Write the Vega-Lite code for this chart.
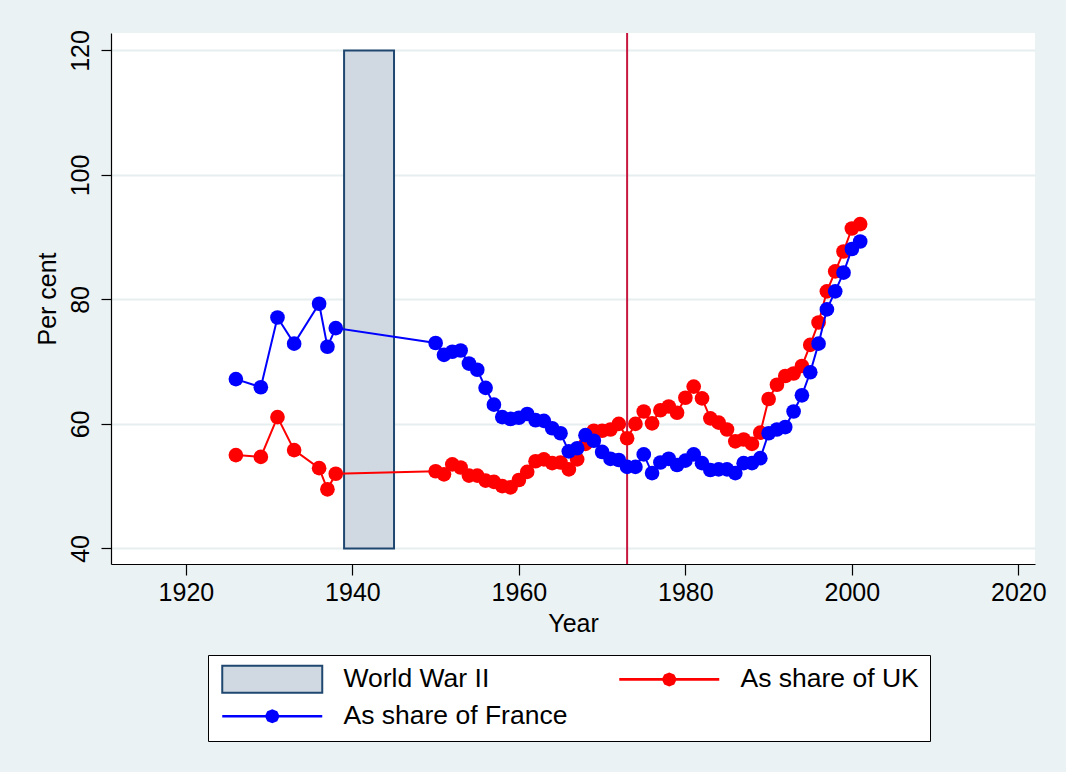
{
  "$schema": "https://vega.github.io/schema/vega-lite/v6.json",
  "width": 924,
  "height": 531,
  "autosize": {"type": "none"},
  "padding": {"left": 111, "top": 33, "right": 31, "bottom": 208},
  "background": "#eaf2f3",
  "config": {
    "font": "Liberation Sans",
    "view": {"fill": "white", "stroke": null},
    "axis": {
      "domainColor": "black",
      "domainWidth": 1.2,
      "tickColor": "black",
      "tickWidth": 1.2,
      "labelColor": "black",
      "labelFont": "Liberation Sans",
      "labelFontSize": 25,
      "labelOverlap": false,
      "labelFlush": false,
      "titleColor": "black",
      "titleFont": "Liberation Sans",
      "titleFontSize": 25,
      "titleFontWeight": "normal"
    }
  },
  "datasets": {
    "series": [
      {"year": 1926, "value": 55.0, "series": "As share of UK"},
      {"year": 1929, "value": 54.7, "series": "As share of UK"},
      {"year": 1931, "value": 61.1, "series": "As share of UK"},
      {"year": 1933, "value": 55.8, "series": "As share of UK"},
      {"year": 1936, "value": 52.9, "series": "As share of UK"},
      {"year": 1937, "value": 49.5, "series": "As share of UK"},
      {"year": 1938, "value": 52.0, "series": "As share of UK"},
      {"year": 1950, "value": 52.4, "series": "As share of UK"},
      {"year": 1951, "value": 51.9, "series": "As share of UK"},
      {"year": 1952, "value": 53.5, "series": "As share of UK"},
      {"year": 1953, "value": 53.0, "series": "As share of UK"},
      {"year": 1954, "value": 51.7, "series": "As share of UK"},
      {"year": 1955, "value": 51.7, "series": "As share of UK"},
      {"year": 1956, "value": 50.9, "series": "As share of UK"},
      {"year": 1957, "value": 50.7, "series": "As share of UK"},
      {"year": 1958, "value": 50.0, "series": "As share of UK"},
      {"year": 1959, "value": 49.8, "series": "As share of UK"},
      {"year": 1960, "value": 51.0, "series": "As share of UK"},
      {"year": 1961, "value": 52.3, "series": "As share of UK"},
      {"year": 1962, "value": 54.0, "series": "As share of UK"},
      {"year": 1963, "value": 54.3, "series": "As share of UK"},
      {"year": 1964, "value": 53.7, "series": "As share of UK"},
      {"year": 1965, "value": 53.8, "series": "As share of UK"},
      {"year": 1966, "value": 52.7, "series": "As share of UK"},
      {"year": 1967, "value": 54.3, "series": "As share of UK"},
      {"year": 1968, "value": 56.8, "series": "As share of UK"},
      {"year": 1969, "value": 58.9, "series": "As share of UK"},
      {"year": 1970, "value": 58.9, "series": "As share of UK"},
      {"year": 1971, "value": 59.1, "series": "As share of UK"},
      {"year": 1972, "value": 60.0, "series": "As share of UK"},
      {"year": 1973, "value": 57.7, "series": "As share of UK"},
      {"year": 1974, "value": 60.0, "series": "As share of UK"},
      {"year": 1975, "value": 62.0, "series": "As share of UK"},
      {"year": 1976, "value": 60.1, "series": "As share of UK"},
      {"year": 1977, "value": 62.2, "series": "As share of UK"},
      {"year": 1978, "value": 62.8, "series": "As share of UK"},
      {"year": 1979, "value": 61.8, "series": "As share of UK"},
      {"year": 1980, "value": 64.2, "series": "As share of UK"},
      {"year": 1981, "value": 66.0, "series": "As share of UK"},
      {"year": 1982, "value": 64.1, "series": "As share of UK"},
      {"year": 1983, "value": 60.9, "series": "As share of UK"},
      {"year": 1984, "value": 60.2, "series": "As share of UK"},
      {"year": 1985, "value": 59.1, "series": "As share of UK"},
      {"year": 1986, "value": 57.2, "series": "As share of UK"},
      {"year": 1987, "value": 57.5, "series": "As share of UK"},
      {"year": 1988, "value": 56.8, "series": "As share of UK"},
      {"year": 1989, "value": 58.6, "series": "As share of UK"},
      {"year": 1990, "value": 64.0, "series": "As share of UK"},
      {"year": 1991, "value": 66.3, "series": "As share of UK"},
      {"year": 1992, "value": 67.7, "series": "As share of UK"},
      {"year": 1993, "value": 68.1, "series": "As share of UK"},
      {"year": 1994, "value": 69.3, "series": "As share of UK"},
      {"year": 1995, "value": 72.7, "series": "As share of UK"},
      {"year": 1996, "value": 76.3, "series": "As share of UK"},
      {"year": 1997, "value": 81.3, "series": "As share of UK"},
      {"year": 1998, "value": 84.5, "series": "As share of UK"},
      {"year": 1999, "value": 87.7, "series": "As share of UK"},
      {"year": 2000, "value": 91.4, "series": "As share of UK"},
      {"year": 2001, "value": 92.1, "series": "As share of UK"},
      {"year": 1926, "value": 67.2, "series": "As share of France"},
      {"year": 1929, "value": 65.9, "series": "As share of France"},
      {"year": 1931, "value": 77.1, "series": "As share of France"},
      {"year": 1933, "value": 72.9, "series": "As share of France"},
      {"year": 1936, "value": 79.3, "series": "As share of France"},
      {"year": 1937, "value": 72.4, "series": "As share of France"},
      {"year": 1938, "value": 75.4, "series": "As share of France"},
      {"year": 1950, "value": 73.0, "series": "As share of France"},
      {"year": 1951, "value": 71.1, "series": "As share of France"},
      {"year": 1952, "value": 71.6, "series": "As share of France"},
      {"year": 1953, "value": 71.8, "series": "As share of France"},
      {"year": 1954, "value": 69.7, "series": "As share of France"},
      {"year": 1955, "value": 68.7, "series": "As share of France"},
      {"year": 1956, "value": 65.8, "series": "As share of France"},
      {"year": 1957, "value": 63.1, "series": "As share of France"},
      {"year": 1958, "value": 61.1, "series": "As share of France"},
      {"year": 1959, "value": 60.8, "series": "As share of France"},
      {"year": 1960, "value": 61.0, "series": "As share of France"},
      {"year": 1961, "value": 61.6, "series": "As share of France"},
      {"year": 1962, "value": 60.6, "series": "As share of France"},
      {"year": 1963, "value": 60.5, "series": "As share of France"},
      {"year": 1964, "value": 59.3, "series": "As share of France"},
      {"year": 1965, "value": 58.5, "series": "As share of France"},
      {"year": 1966, "value": 55.6, "series": "As share of France"},
      {"year": 1967, "value": 56.1, "series": "As share of France"},
      {"year": 1968, "value": 58.2, "series": "As share of France"},
      {"year": 1969, "value": 57.3, "series": "As share of France"},
      {"year": 1970, "value": 55.5, "series": "As share of France"},
      {"year": 1971, "value": 54.4, "series": "As share of France"},
      {"year": 1972, "value": 54.2, "series": "As share of France"},
      {"year": 1973, "value": 53.1, "series": "As share of France"},
      {"year": 1974, "value": 53.1, "series": "As share of France"},
      {"year": 1975, "value": 55.1, "series": "As share of France"},
      {"year": 1976, "value": 52.1, "series": "As share of France"},
      {"year": 1977, "value": 53.8, "series": "As share of France"},
      {"year": 1978, "value": 54.4, "series": "As share of France"},
      {"year": 1979, "value": 53.4, "series": "As share of France"},
      {"year": 1980, "value": 54.1, "series": "As share of France"},
      {"year": 1981, "value": 55.1, "series": "As share of France"},
      {"year": 1982, "value": 53.7, "series": "As share of France"},
      {"year": 1983, "value": 52.6, "series": "As share of France"},
      {"year": 1984, "value": 52.7, "series": "As share of France"},
      {"year": 1985, "value": 52.7, "series": "As share of France"},
      {"year": 1986, "value": 52.1, "series": "As share of France"},
      {"year": 1987, "value": 53.7, "series": "As share of France"},
      {"year": 1988, "value": 53.7, "series": "As share of France"},
      {"year": 1989, "value": 54.5, "series": "As share of France"},
      {"year": 1990, "value": 58.5, "series": "As share of France"},
      {"year": 1991, "value": 59.1, "series": "As share of France"},
      {"year": 1992, "value": 59.5, "series": "As share of France"},
      {"year": 1993, "value": 62.0, "series": "As share of France"},
      {"year": 1994, "value": 64.6, "series": "As share of France"},
      {"year": 1995, "value": 68.3, "series": "As share of France"},
      {"year": 1996, "value": 72.9, "series": "As share of France"},
      {"year": 1997, "value": 78.4, "series": "As share of France"},
      {"year": 1998, "value": 81.3, "series": "As share of France"},
      {"year": 1999, "value": 84.3, "series": "As share of France"},
      {"year": 2000, "value": 88.1, "series": "As share of France"},
      {"year": 2001, "value": 89.3, "series": "As share of France"}
    ],
    "war": [
      {"start": 1939, "end": 1945, "lo": 40, "hi": 120, "series": "World War II"}
    ],
    "event": [
      {"year": 1973}
    ]
  },
  "layer": [
    {
      "data": {"name": "war"},
      "mark": {"type": "rect", "stroke": "#1f4770", "strokeWidth": 2, "opacity": 1},
      "encoding": {
        "x": {"field": "start", "type": "quantitative", "title": "Year",
              "scale": {"domain": [1911, 2022], "nice": false, "zero": false},
              "axis": {"values": [1920, 1940, 1960, 1980, 2000, 2020], "format": "d", "grid": false, "tickSize": 11, "labelPadding": 5, "titlePadding": 6}},
        "x2": {"field": "end"},
        "y": {"field": "lo", "type": "quantitative", "title": "Per cent",
              "scale": {"domain": [37.5, 122.8], "nice": false, "zero": false},
              "axis": {"values": [40, 60, 80, 100, 120], "grid": true, "gridColor": "#e6eef0", "gridWidth": 2, "tickSize": 10, "labelAngle": -90, "labelAlign": "center", "labelBaseline": "bottom", "labelPadding": 8, "titlePadding": 8}},
        "y2": {"field": "hi"},
        "fill": {
          "field": "series", "type": "nominal",
          "scale": {"domain": ["World War II"], "range": ["#d0d9e2"]},
          "legend": {
            "title": null,
            "orient": "none",
            "legendX": 108,
            "legendY": 633,
            "padding": 0,
            "zindex": 5,
            "labelFont": "Liberation Sans",
            "labelFontSize": 26.5,
            "labelColor": "black",
            "labelOffset": 98,
            "labelLimit": 500,
            "symbolSize": 400,
            "symbolStrokeWidth": 2,
            "symbolStrokeColor": "#1f4770",
            "symbolType": "M-1,-1.35H9V1.35H-1Z"
          }
        }
      }
    },
    {
      "data": {"name": "event"},
      "mark": {"type": "rule", "color": "#c8173e", "strokeWidth": 2},
      "encoding": {
        "x": {"field": "year", "type": "quantitative", "title": "Year"}
      }
    },
    {
      "data": {"name": "series"},
      "transform": [{"filter": "datum.series === 'As share of UK'"}],
      "mark": {"type": "point", "filled": true, "shape": "circle", "size": 215, "opacity": 1},
      "encoding": {
        "x": {"field": "year", "type": "quantitative", "title": "Year"},
        "y": {"field": "value", "type": "quantitative", "title": "Per cent"},
        "color": {
          "field": "series", "type": "nominal",
          "scale": {"domain": ["_blank", "As share of UK", "As share of France"], "range": ["transparent", "#ff0000", "#0000ff"]},
          "legend": {
            "title": null,
            "orient": "none",
            "legendX": 97,
            "legendY": 622,
            "direction": "horizontal",
            "columns": 2,
            "columnPadding": 48,
            "rowPadding": 10,
            "padding": 11,
            "zindex": 1,
            "strokeColor": "black",
            "fillColor": "white",
            "labelFont": "Liberation Sans",
            "labelFontSize": 26.5,
            "labelColor": "black",
            "labelOffset": 98,
            "labelLimit": 500,
            "labelExpr": "datum.value === '_blank' ? '' : datum.label",
            "symbolSize": 400,
            "symbolStrokeWidth": 0,
            "symbolOpacity": 1,
            "symbolType": "M-1,-0.13H3.32L3.5,-0.5L4,-0.7L4.5,-0.5L4.68,-0.13H9V0.13H4.68L4.5,0.5L4,0.7L3.5,0.5L3.32,0.13H-1Z"
          }
        }
      }
    },
    {
      "data": {"name": "series"},
      "transform": [{"filter": "datum.series === 'As share of UK'"}],
      "mark": {"type": "line", "strokeWidth": 2},
      "encoding": {
        "x": {"field": "year", "type": "quantitative", "title": "Year"},
        "y": {"field": "value", "type": "quantitative", "title": "Per cent"},
        "color": {"field": "series", "type": "nominal", "scale": {"domain": ["_blank", "As share of UK", "As share of France"], "range": ["transparent", "#ff0000", "#0000ff"]}, "legend": null}
      }
    },
    {
      "data": {"name": "series"},
      "transform": [{"filter": "datum.series === 'As share of France'"}],
      "mark": {"type": "line", "strokeWidth": 2},
      "encoding": {
        "x": {"field": "year", "type": "quantitative", "title": "Year"},
        "y": {"field": "value", "type": "quantitative", "title": "Per cent"},
        "color": {"field": "series", "type": "nominal", "scale": {"domain": ["_blank", "As share of UK", "As share of France"], "range": ["transparent", "#ff0000", "#0000ff"]}, "legend": null}
      }
    },
    {
      "data": {"name": "series"},
      "transform": [{"filter": "datum.series === 'As share of France'"}],
      "mark": {"type": "point", "filled": true, "shape": "circle", "size": 215, "opacity": 1},
      "encoding": {
        "x": {"field": "year", "type": "quantitative", "title": "Year"},
        "y": {"field": "value", "type": "quantitative", "title": "Per cent"},
        "color": {"field": "series", "type": "nominal", "scale": {"domain": ["_blank", "As share of UK", "As share of France"], "range": ["transparent", "#ff0000", "#0000ff"]}, "legend": null}
      }
    }
  ]
}
